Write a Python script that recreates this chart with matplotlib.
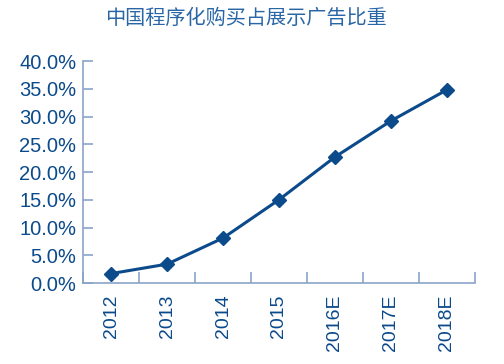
import numpy as np
import matplotlib.pyplot as plt
from matplotlib.ticker import FixedLocator, PercentFormatter

plt.rcParams['font.family'] = ['Liberation Sans', 'Noto Sans CJK SC', 'DejaVu Sans']

# data
years = ['2012', '2013', '2014', '2015', '2016E', '2017E', '2018E']
share = [1.7, 3.4, 8.1, 15.0, 22.7, 29.2, 34.8]

title = '中国程序化购买占展示广告比重'
dark = '#0b4a8b'
spine = '#8aa4c8'


def main():
  fig = plt.figure(figsize=(5.04, 3.64), dpi=100)
  ax = fig.add_axes([0.165, 0.2225, 0.777, 0.6099])

  x = np.arange(len(years))
  ax.plot(x, share, color=dark, linewidth=2.2, marker='D', markersize=7)

  ax.set_xlim(-0.5, len(years) - 0.5)
  ax.set_ylim(0, 40)
  ax.set_yticks(np.arange(0, 41, 5))
  ax.yaxis.set_major_formatter(PercentFormatter(decimals=1))

  ax.set_xticks(x)
  ax.set_xticklabels(years, rotation=90)
  ax.xaxis.set_minor_locator(FixedLocator(np.arange(-0.5, len(years), 1)))

  for side in ['top', 'right']:
    ax.spines[side].set_visible(False)
  for side in ['left', 'bottom']:
    ax.spines[side].set_color(spine)
    ax.spines[side].set_linewidth(1.2)

  ax.tick_params(axis='y', direction='in', length=7, color=spine, width=1.2,
                 labelsize=14.5, labelcolor=dark, pad=5)
  ax.tick_params(axis='x', which='major', length=0, labelsize=14,
                 labelcolor=dark, pad=8)
  ax.tick_params(axis='x', which='minor', direction='in', length=8,
                 color=spine, width=1.2)

  fig.text(0.487, 0.948, title, ha='center', va='center', fontsize=14.5,
           color='#2a66a6', family=['Noto Sans CJK SC', 'DejaVu Sans'])

  plt.savefig('out.png')


if __name__ == "__main__":
  main()
